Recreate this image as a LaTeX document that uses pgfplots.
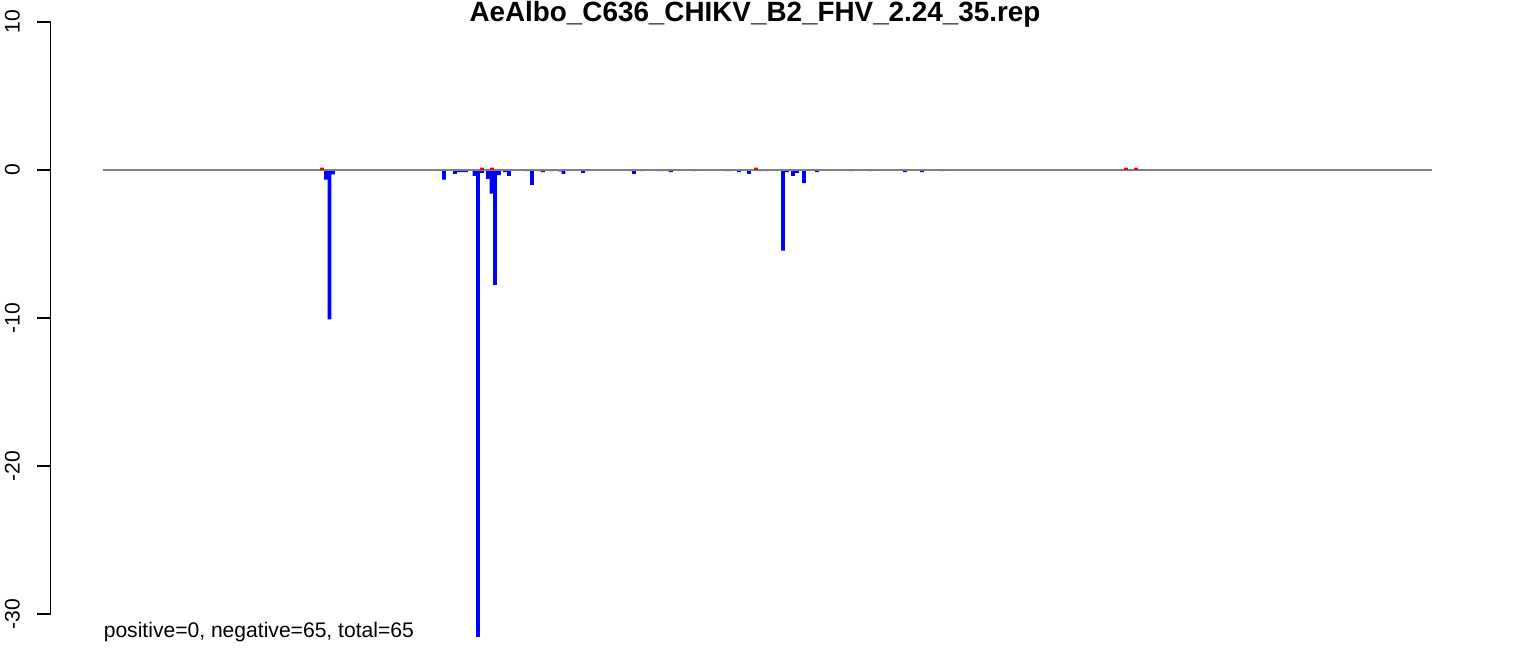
\documentclass[border=0pt]{standalone}
\usepackage{pgfplots}
\pgfplotsset{compat=1.18}
\usepackage{fontspec}
\setmainfont{Liberation Sans}
\definecolor{rblue}{RGB}{0,0,255}
\definecolor{rred}{RGB}{255,0,0}
\definecolor{zline}{RGB}{128,128,128}
\pgfplotstableread{
x y
326 -0.65
329.5 -10.1
333 -0.3
440.5 -0.07
444 -0.65
455 -0.27
459 -0.14
462.5 -0.14
466 -0.14
474.5 -0.4
478 -31.55
482 -0.2
488 -0.6
491.5 -1.6
495 -7.77
499 -0.34
505 -0.14
509 -0.4
525.5 -0.07
528 -0.07
532 -1.0
539 -0.07
543 -0.14
552.5 -0.07
560 -0.1
563.5 -0.27
583 -0.2
587 -0.07
630.5 -0.07
634 -0.27
641 -0.07
658 -0.07
661.5 -0.07
667.5 -0.07
671 -0.14
695 -0.07
726 -0.07
729.5 -0.07
739 -0.14
749 -0.27
760 -0.07
766 -0.07
783 -5.45
787 -0.14
793 -0.4
797 -0.2
804 -0.88
817 -0.14
851 -0.07
871 -0.07
905 -0.14
922 -0.14
943 -0.07
}\negtable
\pgfplotstableread{
x y
322 0.16
482 0.16
492 0.16
756 0.16
1126 0.16
1136 0.16
}\postable
\begin{document}
\begin{tikzpicture}
\begin{axis}[
  x=0.25mm, y=3.7mm,
  xmin=50.7, xmax=1485,
  ymin=-30, ymax=10,
  clip=false,
  axis x line=none,
  axis y line=left,
  axis line style={-, black, line width=0.35mm},
  ytick={-30,-20,-10,0,10},
  tick align=outside,
  major tick length=3.4mm,
  tick style={black, line width=0.35mm},
  /pgf/number format/assume math mode=true,
  yticklabel style={font=\fontsize{15}{18}\selectfont, xshift=-4.4mm, rotate=90, anchor=base, inner sep=0pt},
]
\addplot[ybar, bar width=3.6, bar shift=0pt, fill=rblue, draw=none, no markers] table[x=x,y=y] {\negtable};
\addplot[zline, line width=0.3mm, no markers] coordinates {(103,0) (1432,0)};
\addplot[ybar, bar width=3.6, bar shift=0pt, fill=rred, draw=none, no markers] table[x=x,y=y] {\postable};
\node[anchor=base, font=\fontsize{19.8}{24}\selectfont\bfseries] at (axis cs:755,10.04) {AeAlbo\_C636\_CHIKV\_B2\_FHV\_2.24\_35.rep};
\node[anchor=base west, inner sep=0pt, font=\fontsize{15}{18}\selectfont] at (axis cs:103.5,-31.62) {positive=0, negative=65, total=65};
\coordinate (tl) at (axis cs:0,11.486);
\coordinate (br) at (axis cs:1533,-32.77);
\end{axis}
\pgfresetboundingbox
\path[use as bounding box] (tl) rectangle (br);
\end{tikzpicture}
\end{document}
